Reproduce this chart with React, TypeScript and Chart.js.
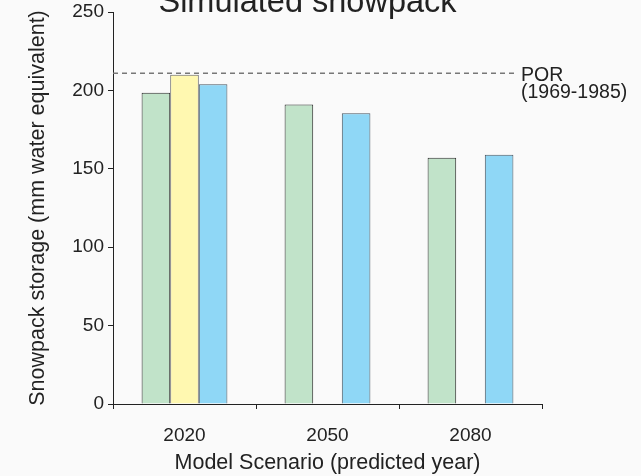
import { useEffect, useRef } from "react";
import { Chart, registerables } from "chart.js";

Chart.register(...registerables);

const categories = ["2020", "2050", "2080"];
const seriesGreen = [198.5, 191, 157];
const seriesYellow: (number | null)[] = [210, null, null];
const seriesBlue = [204, 185.5, 159];
const yTicks = [0, 50, 100, 150, 200, 250];
const porValue = 211;
const porLabel = ["POR", "(1969-1985)"];
const titleText = "Simulated snowpack";
const xTitle = "Model Scenario (predicted year)";
const yTitle = "Snowpack storage (mm water equivalent)";

const FONT = "'Liberation Sans', Arial, Helvetica, sans-serif";
const TEXT = "#222222";

const decorPlugin = {
  id: "decor",
  beforeDraw(chart: any) {
    const { ctx, width, height } = chart;
    ctx.save();
    ctx.fillStyle = "#fafafa";
    ctx.fillRect(0, 0, width, height);
    ctx.restore();
  },
  afterDraw(chart: any) {
    const { ctx, chartArea, scales } = chart;
    const y = scales.y.getPixelForValue(porValue);
    ctx.save();
    ctx.strokeStyle = "#777777";
    ctx.lineWidth = 1.5;
    ctx.setLineDash([5, 4]);
    ctx.beginPath();
    ctx.moveTo(chartArea.left, y);
    ctx.lineTo(chartArea.right - 27, y);
    ctx.stroke();
    ctx.setLineDash([]);
    ctx.fillStyle = TEXT;
    ctx.font = `19.5px ${FONT}`;
    ctx.textAlign = "left";
    ctx.textBaseline = "middle";
    porLabel.forEach((t, i) => {
      ctx.fillText(t, chartArea.right - 21, y + 2 + i * 17.5);
    });
    ctx.font = `32.5px ${FONT}`;
    ctx.textAlign = "center";
    ctx.textBaseline = "alphabetic";
    ctx.fillText(titleText, 307.5, 12);
    ctx.restore();
  },
};

export default function App() {
  const ref = useRef<HTMLCanvasElement | null>(null);
  useEffect(() => {
    if (!ref.current) return;
    document.body.style.margin = "0";
    document.body.style.background = "#fafafa";
    const chart = new Chart(ref.current, {
      type: "bar",
      data: {
        labels: categories,
        datasets: [
          {
            label: "A",
            data: seriesGreen,
            backgroundColor: "#c1e3c9",
            borderColor: "#2a2a2a",
            borderWidth: 1,
          },
          {
            label: "B",
            data: seriesYellow,
            backgroundColor: "#fff8b0",
            borderColor: "#666666",
            borderWidth: 1,
          },
          {
            label: "C",
            data: seriesBlue,
            backgroundColor: "#8fd7f6",
            borderColor: "#4a5560",
            borderWidth: 1,
          },
        ],
      },
      options: {
        responsive: false,
        animation: false,
        layout: { padding: { top: 12, right: 99, left: 0, bottom: 0 } },
        plugins: {
          legend: { display: false },
          title: { display: false },
          tooltip: { enabled: false },
        },
        datasets: { bar: { categoryPercentage: 0.6, barPercentage: 1.0 } },
        scales: {
          x: {
            offset: true,
            grid: {
              display: true,
              offset: true,
              drawOnChartArea: false,
              drawTicks: true,
              tickLength: 5,
              color: "#222222",
            },
            border: { display: true, color: "#222222", width: 1 },
            ticks: {
              color: TEXT,
              font: { family: FONT, size: 19 },
              padding: 15,
              maxRotation: 0,
            },
            title: {
              display: true,
              text: xTitle,
              color: TEXT,
              font: { family: FONT, size: 21.5 },
              padding: { top: 0, bottom: 0 },
            },
            afterFit: (s: any) => {
              s.height = 72;
              s.paddingLeft = 0;
              s.paddingRight = 0;
            },
          },
          y: {
            min: 0,
            max: 250,
            afterBuildTicks: (s: any) => {
              s.ticks = yTicks.map((v) => ({ value: v }));
            },
            grid: {
              display: true,
              drawOnChartArea: false,
              drawTicks: true,
              tickLength: 5,
              color: "#222222",
            },
            border: { display: true, color: "#222222", width: 1 },
            ticks: {
              color: TEXT,
              font: { family: FONT, size: 19 },
              padding: 4,
            },
            title: {
              display: true,
              text: yTitle,
              color: TEXT,
              font: { family: FONT, size: 21.5 },
              padding: { top: 25, bottom: 0 },
            },
            afterFit: (s: any) => {
              s.width = 113;
              s.paddingTop = 0;
              s.paddingBottom = 0;
            },
          },
        },
      },
      plugins: [decorPlugin],
    });
    return () => chart.destroy();
  }, []);
  return (
    <div style={{ position: "fixed", left: 0, top: 0, width: 641, height: 476 }}>
      <canvas ref={ref} width={641} height={476} style={{ width: 641, height: 476 }} />
    </div>
  );
}
